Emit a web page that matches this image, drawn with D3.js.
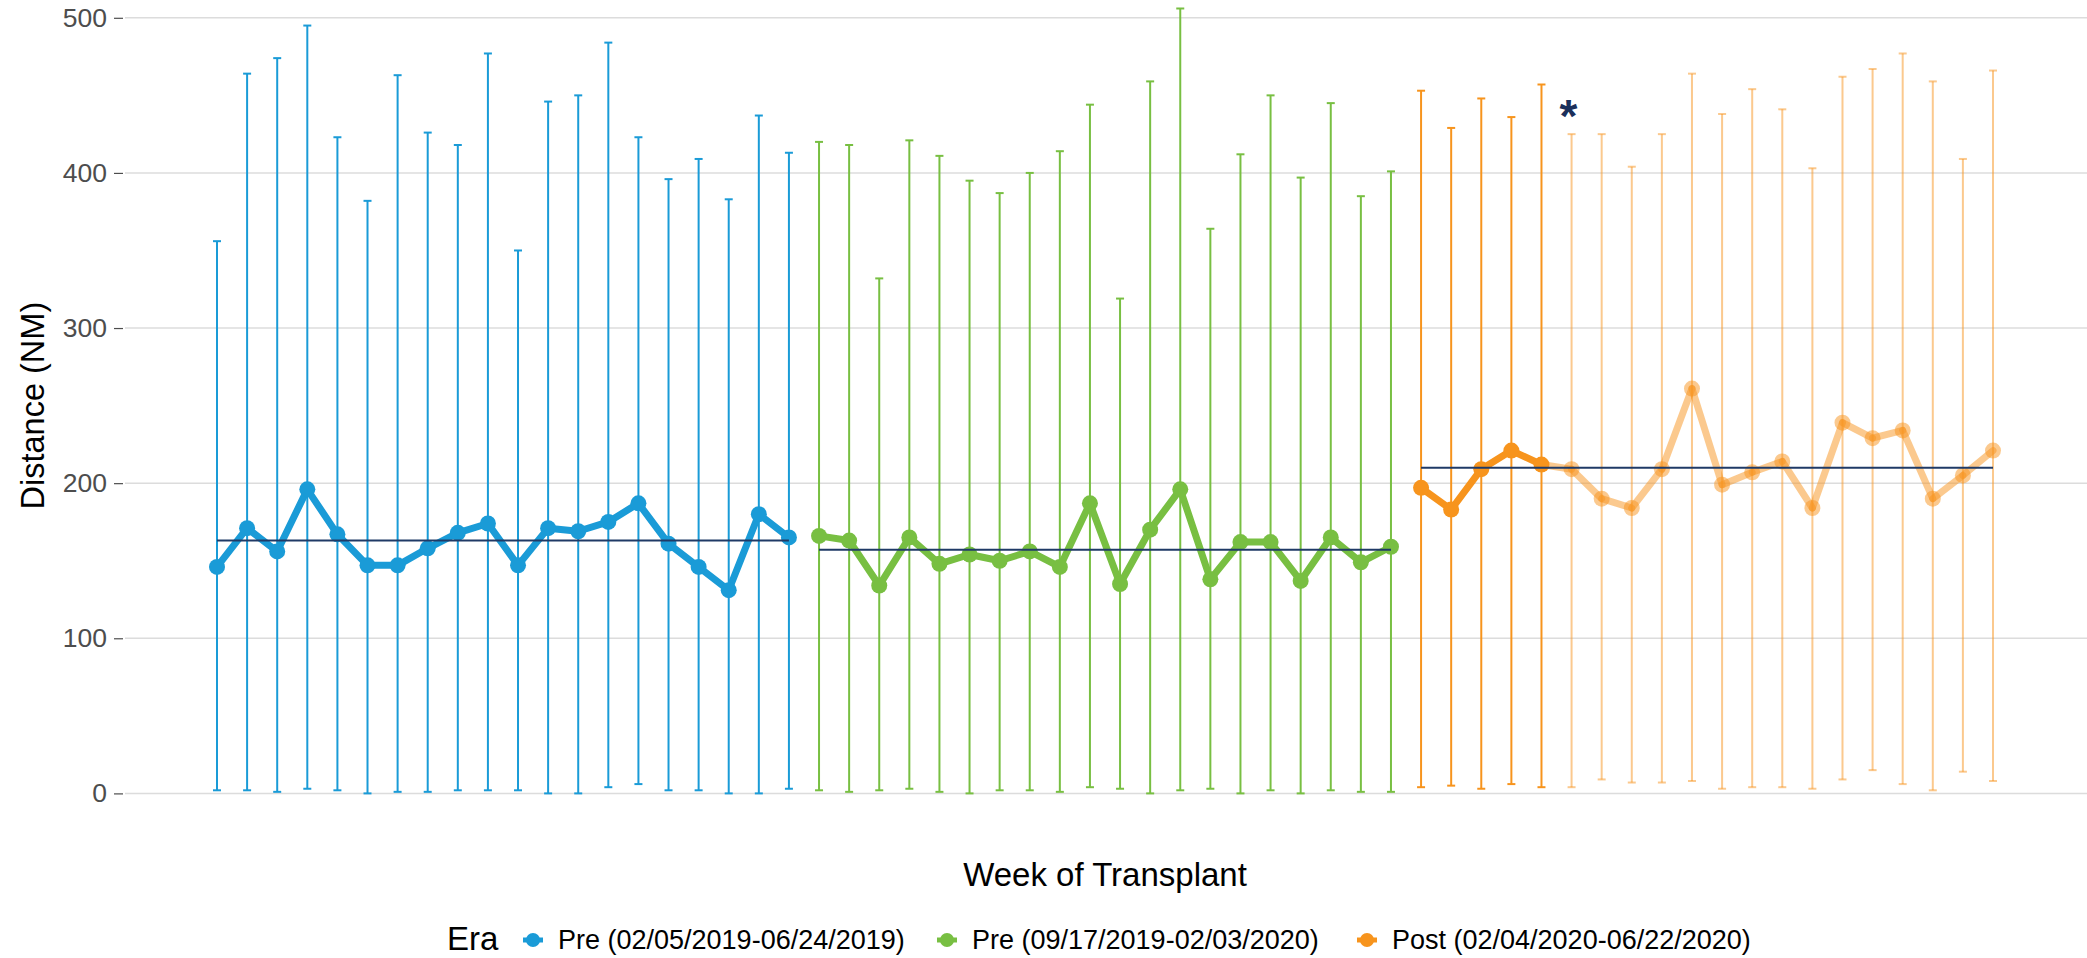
<!DOCTYPE html>
<html>
<head>
<meta charset="utf-8">
<script src="https://cdn.jsdelivr.net/npm/d3@7"></script>
<style>
  body { margin: 0; background: #fff; }
  text { font-family: "Liberation Sans", Arial, Helvetica, sans-serif; }
</style>
</head>
<body>
<svg id="chart" width="2087" height="958"></svg>
<script>
// Era names (legend)
var eras = ["Pre (02/05/2019-06/24/2019)", "Pre (09/17/2019-02/03/2020)", "Post (02/04/2020-06/22/2020)"];
var eraColors = ["#1a9bd7", "#78bf42", "#f7941d"];

// weekly means per era
var preOneMean = [146, 171, 156, 196, 167, 147, 147, 158, 168, 174, 147, 171, 169, 175, 187, 161, 146, 131, 180, 165];
var preTwoMean = [166, 163, 134, 165, 148, 154, 150, 156, 146, 187, 135, 170, 196, 138, 162, 162, 137, 165, 149, 159];
var postMean   = [197, 183, 209, 221, 212, 209, 190, 184, 209, 261, 199, 207, 214, 184, 239, 229, 234, 190, 205, 221];

// error bar upper ends
var preOneHigh = [356, 464, 474, 495, 423, 382, 463, 426, 418, 477, 350, 446, 450, 484, 423, 396, 409, 383, 437, 413];
var preTwoHigh = [420, 418, 332, 421, 411, 395, 387, 400, 414, 444, 319, 459, 506, 364, 412, 450, 397, 445, 385, 401];
var postHigh   = [453, 429, 448, 436, 457, 425, 425, 404, 425, 464, 438, 454, 441, 403, 462, 467, 477, 459, 409, 466];

// error bar lower ends
var preOneLow = [2, 2, 1, 3, 2, 0, 1, 1, 2, 2, 2, 0, 0, 4, 6, 2, 2, 0, 0, 3];
var preTwoLow = [2, 1, 2, 3, 1, 0, 2, 2, 1, 4, 3, 0, 2, 3, 0, 2, 0, 2, 1, 1];
var postLow   = [4, 5, 3, 6, 4, 4, 9, 7, 7, 8, 3, 4, 4, 3, 9, 15, 6, 2, 14, 8];

// era average lines
var eraAverage = [163, 157, 210];

// Post weeks after this count are drawn faded
var postSolidWeeks = 5;
var starWeek = 5; // index in Post era with the asterisk

var svg = d3.select("#chart");

// build the rows
var series = [
  { mean: preOneMean, high: preOneHigh, low: preOneLow },
  { mean: preTwoMean, high: preTwoHigh, low: preTwoLow },
  { mean: postMean, high: postHigh, low: postLow }
];
var rows = [];
var start = 0;
series.forEach(function(s, e) {
  s.start = start;
  s.mean.forEach(function(m, i) {
    rows.push({ era: e, idx: start + i, k: i, mean: m, high: s.high[i], low: s.low[i],
                faded: e === 2 && i >= postSolidWeeks });
  });
  start += s.mean.length;
});

var x = d3.scaleLinear().domain([0, rows.length - 1]).range([217, 1993]);
var y = d3.scaleLinear().domain([0, 500]).range([793.4, 17.8]);

// gridlines
var gridLeft = 125, gridRight = 2087;
svg.append("g").selectAll("line")
  .data(y.ticks(5))
  .enter().append("line")
  .attr("x1", gridLeft).attr("x2", gridRight)
  .attr("y1", function(d) { return y(d); })
  .attr("y2", function(d) { return y(d); })
  .attr("stroke", "#dcdcdc").attr("stroke-width", 1.5);

// y axis
var yAxis = d3.axisLeft(y).ticks(5).tickSize(9).tickPadding(7);
var ya = svg.append("g").attr("transform", "translate(" + (gridLeft - 2) + ",0)").call(yAxis);
ya.select(".domain").remove();
ya.selectAll(".tick line").attr("stroke", "#4d4d4d").attr("stroke-width", 1.2);
ya.selectAll(".tick text").attr("fill", "#4d4d4d").style("font-size", "26.5px")
  .style("font-family", "'Liberation Sans', Arial, sans-serif");

svg.append("text")
  .attr("transform", "translate(44," + ((y(0) + y(500)) / 2) + ") rotate(-90)")
  .attr("text-anchor", "middle")
  .style("font-size", "32.5px")
  .text("Distance (NM)");

svg.append("text")
  .attr("x", 1105).attr("y", 886)
  .attr("text-anchor", "middle")
  .style("font-size", "33px")
  .text("Week of Transplant");

function colorOf(d) { return eraColors[d.era]; }
function opacityOf(d) { return d.faded ? 0.5 : 1; }

// error bars
var eb = svg.append("g").selectAll("g").data(rows).enter().append("g")
  .attr("stroke", colorOf).attr("stroke-opacity", opacityOf).attr("stroke-width", 2);
eb.append("line")
  .attr("x1", function(d) { return x(d.idx); }).attr("x2", function(d) { return x(d.idx); })
  .attr("y1", function(d) { return y(d.low); }).attr("y2", function(d) { return y(d.high); });
eb.append("line")
  .attr("x1", function(d) { return x(d.idx) - 4; }).attr("x2", function(d) { return x(d.idx) + 4; })
  .attr("y1", function(d) { return y(d.high); }).attr("y2", function(d) { return y(d.high); });
eb.append("line")
  .attr("x1", function(d) { return x(d.idx) - 4; }).attr("x2", function(d) { return x(d.idx) + 4; })
  .attr("y1", function(d) { return y(d.low); }).attr("y2", function(d) { return y(d.low); });

// connecting lines, segment by segment so the faded part can differ
var segs = [];
rows.forEach(function(d, i) {
  var n = rows[i + 1];
  if (n && n.era === d.era) segs.push({ a: d, b: n, era: d.era, faded: n.faded });
});
svg.append("g").selectAll("line").data(segs).enter().append("line")
  .attr("x1", function(s) { return x(s.a.idx); }).attr("y1", function(s) { return y(s.a.mean); })
  .attr("x2", function(s) { return x(s.b.idx); }).attr("y2", function(s) { return y(s.b.mean); })
  .attr("stroke", function(s) { return eraColors[s.era]; })
  .attr("stroke-opacity", function(s) { return s.faded ? 0.5 : 1; })
  .attr("stroke-width", 7).attr("stroke-linecap", "round");

// points
svg.append("g").selectAll("circle").data(rows).enter().append("circle")
  .attr("cx", function(d) { return x(d.idx); })
  .attr("cy", function(d) { return y(d.mean); })
  .attr("r", 8)
  .attr("fill", colorOf).attr("fill-opacity", opacityOf);

// era average lines
svg.append("g").selectAll("line").data(series).enter().append("line")
  .attr("x1", function(s) { return x(s.start); })
  .attr("x2", function(s) { return x(s.start + s.mean.length - 1); })
  .attr("y1", function(s, i) { return y(eraAverage[i]); })
  .attr("y2", function(s, i) { return y(eraAverage[i]); })
  .attr("stroke", "#1f3a66").attr("stroke-width", 2);

// asterisk
svg.append("text")
  .attr("x", x(series[2].start + starWeek) - 3)
  .attr("y", y(postHigh[starWeek]) - 2)
  .attr("text-anchor", "middle")
  .attr("fill", "#1b2f5a")
  .style("font-size", "46px").style("font-weight", "bold")
  .text("*");

// legend
var lg = svg.append("g").attr("transform", "translate(0,940)");
lg.append("text").attr("x", 447).attr("y", 10).style("font-size", "33px").text("Era");
var keyX = [533, 947, 1367];
eras.forEach(function(name, i) {
  var g = lg.append("g").attr("transform", "translate(" + keyX[i] + ",0)");
  g.append("line").attr("x1", -10).attr("x2", 10).attr("y1", 0).attr("y2", 0)
    .attr("stroke", eraColors[i]).attr("stroke-width", 5);
  g.append("circle").attr("r", 7).attr("fill", eraColors[i]);
  g.append("text").attr("x", 25).attr("y", 9).style("font-size", "27px").text(name);
});
</script>
</body>
</html>
